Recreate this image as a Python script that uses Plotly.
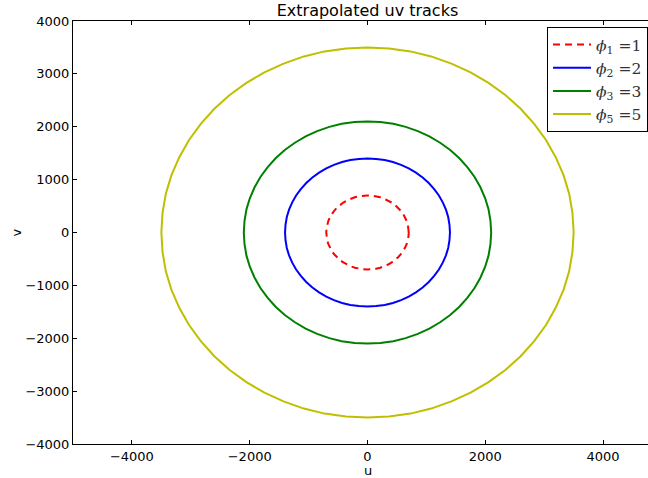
import plotly.graph_objects as go

# Baseline uv track for phi = 1 (one full hour-angle sweep, in wavelengths)
base_u = [700, 696, 685, 666, 639, 606, 566, 520, 468, 411, 350, 285, 216, 146, 73, 0,
          -73, -146, -216, -285, -350, -411, -468, -520, -566, -606, -639, -666, -685, -696, -700,
          -696, -685, -666, -639, -606, -566, -520, -468, -411, -350, -285, -216, -146, -73, 0,
          73, 146, 216, 285, 350, 411, 468, 520, 566, 606, 639, 666, 685, 696, 700]
base_v = [0, 73, 146, 216, 285, 350, 411, 468, 520, 566, 606, 639, 666, 685, 696, 700,
          696, 685, 666, 639, 606, 566, 520, 468, 411, 350, 285, 216, 146, 73, 0,
          -73, -146, -216, -285, -350, -411, -468, -520, -566, -606, -639, -666, -685, -696, -700,
          -696, -685, -666, -639, -606, -566, -520, -468, -411, -350, -285, -216, -146, -73, 0]

# Track scale factors and their legend labels
phi_index = [1, 2, 3, 5]
phi_value = [1, 2, 3, 5]
track_colors = ["#ff0000", "#0000ff", "#008000", "#bfbf00"]
track_dash = ["7px,5px", "solid", "solid", "solid"]

x_ticks = [-4000, -2000, 0, 2000, 4000]
y_ticks = [-4000, -3000, -2000, -1000, 0, 1000, 2000, 3000, 4000]

# plot area in pixels: left 73, right 662, top 21, bottom 444
W, H = 700, 478
L, R, T, B = 73, 662, 21, 444
pw, ph = R - L, B - T

fig = go.Figure()
for idx, val, col, dash in zip(phi_index, phi_value, track_colors, track_dash):
    fig.add_trace(go.Scatter(
        x=[u * val for u in base_u],
        y=[v * val for v in base_v],
        mode="lines",
        line=dict(color=col, width=2, dash=dash),
        name=f"<i>ϕ</i><sub>{idx}</sub> ={val}",
    ))

axis_common = dict(
    showgrid=False, zeroline=False, automargin=False,
    showline=True, linecolor="black", linewidth=1,
    mirror="ticks", ticks="inside", ticklen=4, tickcolor="black",
    tickfont=dict(family="DejaVu Sans", size=13, color="black"),
)

label_font = dict(family="DejaVu Sans", size=13, color="black")

fig.update_layout(
    width=W, height=H,
    margin=dict(l=L, r=W - R, t=T, b=H - B),
    paper_bgcolor="white", plot_bgcolor="white",
    title=dict(text="Extrapolated uv tracks", x=0.5 * (L + R) / W, xanchor="center",
               y=1 - 10 / H, yanchor="middle",
               font=dict(family="DejaVu Sans", size=16, color="black")),
    xaxis=dict(range=[-5000, 5000], tickvals=x_ticks, **axis_common),
    yaxis=dict(range=[-4000, 4000], tickvals=y_ticks, **axis_common),
    annotations=[
        dict(text="u", xref="paper", yref="paper", x=0.5, y=-(461 - B) / ph,
             xanchor="center", yanchor="top", showarrow=False, font=label_font),
        dict(text="v", xref="paper", yref="paper", x=-(L - 16) / pw, y=0.5,
             xanchor="center", yanchor="middle", textangle=-90, showarrow=False, font=label_font),
    ],
    legend=dict(x=(648 - L) / pw, xanchor="right", y=1 - 6 / ph, yanchor="top",
                bgcolor="white", bordercolor="black", borderwidth=1,
                itemwidth=38, tracegroupgap=0,
                font=dict(family="DejaVu Serif", size=15.5, color="#333333")),
    showlegend=True,
)

fig.write_html("out.html")
